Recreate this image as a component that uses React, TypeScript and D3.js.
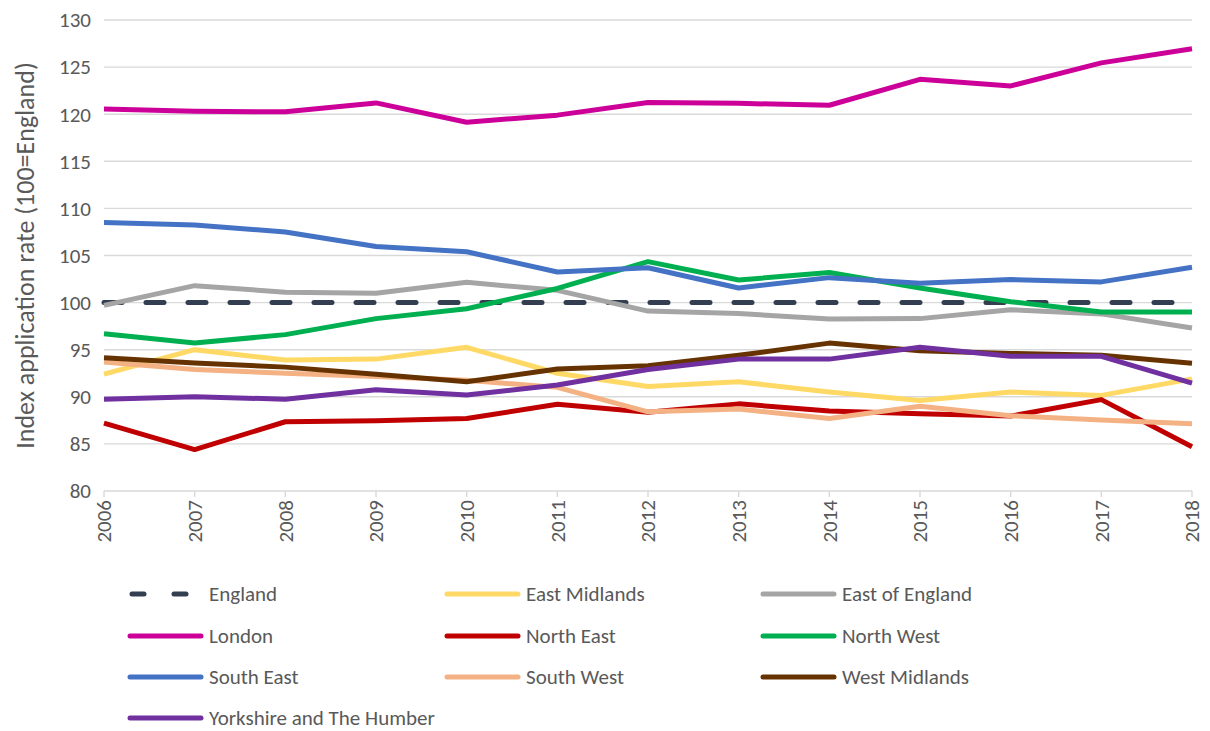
import React from "react";
import * as d3 from "d3";

const years = [2006, 2007, 2008, 2009, 2010, 2011, 2012, 2013, 2014, 2015, 2016, 2017, 2018];
const yTicks = [80, 85, 90, 95, 100, 105, 110, 115, 120, 125, 130];

const england = [100, 100, 100, 100, 100, 100, 100, 100, 100, 100, 100, 100, 100];
const eastMidlands = [92.4, 95.0, 93.9, 94.0, 95.25, 92.5, 91.1, 91.6, 90.5, 89.6, 90.5, 90.15, 91.9];
const eastOfEngland = [99.7, 101.8, 101.1, 101.0, 102.15, 101.3, 99.1, 98.85, 98.25, 98.3, 99.25, 98.8, 97.3];
const london = [120.56, 120.3, 120.25, 121.2, 119.15, 119.9, 121.25, 121.15, 120.95, 123.7, 123.0, 125.45, 126.95];
const northEast = [87.2, 84.4, 87.35, 87.45, 87.7, 89.2, 88.35, 89.25, 88.5, 88.2, 87.95, 89.7, 84.7];
const northWest = [96.7, 95.7, 96.6, 98.3, 99.35, 101.5, 104.35, 102.4, 103.2, 101.55, 100.1, 99.0, 99.0];
const southEast = [108.5, 108.25, 107.5, 105.95, 105.4, 103.25, 103.7, 101.55, 102.65, 102.05, 102.45, 102.2, 103.75];
const southWest = [93.7, 92.9, 92.5, 92.15, 91.75, 91.0, 88.4, 88.7, 87.7, 89.0, 88.0, 87.55, 87.15];
const westMidlands = [94.15, 93.6, 93.15, 92.4, 91.6, 92.95, 93.3, 94.4, 95.7, 94.9, 94.6, 94.4, 93.55];
const yorkshire = [89.75, 90.0, 89.75, 90.75, 90.2, 91.25, 92.9, 94.0, 94.0, 95.25, 94.3, 94.3, 91.45];

const seriesNames = ["England", "East Midlands", "East of England", "London", "North East", "North West", "South East", "South West", "West Midlands", "Yorkshire and The Humber"];
const seriesValues = [england, eastMidlands, eastOfEngland, london, northEast, northWest, southEast, southWest, westMidlands, yorkshire];
const seriesColors = ["#333F50", "#FFD966", "#A5A5A5", "#CC0099", "#C00000", "#00B050", "#4472C4", "#F4B183", "#663300", "#7030A0"];

const W = 1210;
const H = 731;
const left = 104;
const right = 1192;
const top = 20;
const bottom = 491;
const FONT = "Carlito, Calibri, Lato, 'Open Sans', sans-serif";
const TXT = "#595959";
const SW = 5;

export default function App() {
  const x = d3.scaleLinear().domain([2006, 2018]).range([left, right]);
  const y = d3.scaleLinear().domain([80, 130]).range([bottom, top]);
  const line = d3
    .line<number>()
    .x((_, i) => x(years[i]))
    .y((d) => y(d));

  const legendCols = [130, 447, 763];
  const legendRows = [594, 636, 677, 718];
  const lineLen = 71;

  return (
    <svg width={W} height={H} style={{ position: "absolute", left: 0, top: 0, background: "#fff" }}>
      <rect x={0} y={0} width={W} height={H} fill="#fff" />
      {yTicks.map((t) => (
        <g key={t}>
          <line x1={left} x2={right} y1={y(t)} y2={y(t)} stroke="#D9D9D9" strokeWidth={1.4} />
          <text x={91} y={y(t)} dy="0.35em" textAnchor="end" fontFamily={FONT} fontSize={21} fill={TXT}>
            {t}
          </text>
        </g>
      ))}
      {years.map((yr) => (
        <g key={yr}>
          <line x1={x(yr)} x2={x(yr)} y1={bottom} y2={bottom + 6} stroke="#D9D9D9" strokeWidth={1.4} />
          <text
            transform={`translate(${x(yr)},${bottom + 9}) rotate(-90)`}
            textAnchor="end"
            dy="0.35em"
            fontFamily={FONT}
            fontSize={21}
            fill={TXT}
          >
            {yr}
          </text>
        </g>
      ))}
      <text
        transform={`translate(25,${(top + bottom) / 2}) rotate(-90)`}
        textAnchor="middle"
        dy="0.35em"
        fontFamily={FONT}
        fontSize={26}
        fill={TXT}
      >
        Index application rate (100=England)
      </text>
      {seriesValues.map((vals, i) => (
        <path
          key={seriesNames[i]}
          d={line(vals) || ""}
          fill="none"
          stroke={seriesColors[i]}
          strokeWidth={SW}
          strokeLinejoin="round"
          strokeLinecap={i === 0 ? "round" : "butt"}
          strokeDasharray={i === 0 ? "18 24" : undefined}
        />
      ))}
      {seriesNames.map((name, i) => {
        const cx = legendCols[i % 3];
        const cy = legendRows[Math.floor(i / 3)];
        return (
          <g key={name}>
            {i === 0 ? (
              <>
                <line x1={cx + 2} x2={cx + 14} y1={cy} y2={cy} stroke={seriesColors[i]} strokeWidth={SW} strokeLinecap="round" />
                <line x1={cx + 44} x2={cx + 56} y1={cy} y2={cy} stroke={seriesColors[i]} strokeWidth={SW} strokeLinecap="round" />
              </>
            ) : (
              <line x1={cx} x2={cx + lineLen} y1={cy} y2={cy} stroke={seriesColors[i]} strokeWidth={SW} strokeLinecap="round" />
            )}
            <text x={cx + 79} y={cy} dy="0.35em" fontFamily={FONT} fontSize={21} fill={TXT}>
              {name}
            </text>
          </g>
        );
      })}
    </svg>
  );
}
